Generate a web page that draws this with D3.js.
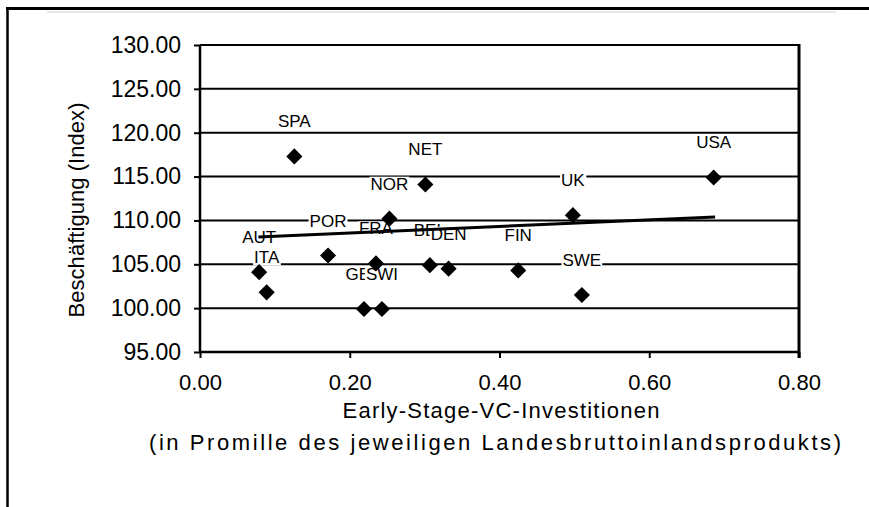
<!DOCTYPE html>
<html>
<head>
<meta charset="utf-8">
<script src="https://cdn.jsdelivr.net/npm/d3@7"></script>
<style>
  html, body { margin: 0; padding: 0; background: #fff; }
  svg { display: block; font-family: "Liberation Sans", Arial, sans-serif; }
</style>
</head>
<body>
<svg id="chart" width="869" height="507"></svg>
<script>
// ---- data ----
const countries  = ["SPA","NET","NOR","POR","AUT","ITA","FRA","GER","SWI","BEL","DEN","FIN","UK","SWE","USA"];
const vcInvest   = [0.126,0.301,0.253,0.171,0.079,0.089,0.235,0.219,0.243,0.307,0.332,0.425,0.498,0.510,0.686];
const employment = [117.3,114.1,110.2,106.0,104.1,101.8,105.1,99.9,99.9,104.9,104.5,104.3,110.6,101.5,114.9];
const trendX = [0.078, 0.688];
const trendY = [108.1, 110.4];
const xTicks = [0.0, 0.2, 0.4, 0.6, 0.8];
const yTicks = [95, 100, 105, 110, 115, 120, 125, 130];
const yTitle = "Beschäftigung (Index)";
const xTitle1 = "Early-Stage-VC-Investitionen";
const xTitle2 = "(in Promille des jeweiligen Landesbruttoinlandsprodukts)";

(function () {
const svg = d3.select("#chart");
const W = 869, H = 507;
svg.append("rect").attr("width", W).attr("height", H).attr("fill", "#fff");

// outer frame
svg.append("line").attr("x1", 6).attr("x2", 869).attr("y1", 8.5).attr("y2", 8.5)
  .attr("stroke", "#000").attr("stroke-width", 3);
svg.append("line").attr("x1", 7.5).attr("x2", 7.5).attr("y1", 7).attr("y2", 507)
  .attr("stroke", "#000").attr("stroke-width", 2.5);
svg.append("line").attr("x1", 47).attr("x2", 836).attr("y1", 12).attr("y2", 12)
  .attr("stroke", "#d0d0d0").attr("stroke-width", 1.2);

const pL = 200, pR = 799, pT = 45, pB = 352;
const x = d3.scaleLinear().domain([0, 0.8]).range([pL, pR]);
const y = d3.scaleLinear().domain([95, 130]).range([pB, pT]);
const fmt = d3.format(".2f");

// gridlines
svg.append("g").selectAll("line").data(yTicks.filter(v => v > 95)).join("line")
  .attr("x1", pL).attr("x2", pR)
  .attr("y1", d => y(d)).attr("y2", d => y(d))
  .attr("stroke", "#000").attr("stroke-width", 2);

// right border
svg.append("line").attr("x1", pR).attr("x2", pR).attr("y1", pT - 1).attr("y2", pB + 6)
  .attr("stroke", "#000").attr("stroke-width", 3);

// y axis
const yAxis = svg.append("g").attr("transform", `translate(${pL},0)`)
  .call(d3.axisLeft(y).tickValues(yTicks).tickFormat(fmt).tickSize(6).tickPadding(13));
yAxis.select(".domain").attr("stroke-width", 2.5).attr("d", `M0,${pT}V${pB}`);
yAxis.selectAll(".tick line").attr("stroke-width", 2);
yAxis.selectAll(".tick text").attr("font-size", 23).attr("fill", "#000")
  .attr("font-family", "'Liberation Sans', Arial, sans-serif");

// x axis
const xAxis = svg.append("g").attr("transform", `translate(0,${pB})`)
  .call(d3.axisBottom(x).tickValues(xTicks).tickFormat(fmt).tickSize(6).tickPadding(16));
xAxis.select(".domain").attr("stroke-width", 2.5).attr("d", `M${pL},0H${pR}`);
xAxis.selectAll(".tick line").attr("stroke-width", 2);
xAxis.selectAll(".tick text").attr("font-size", 22).attr("fill", "#000")
  .attr("font-family", "'Liberation Sans', Arial, sans-serif");

// axis titles
svg.append("text").attr("transform", `translate(84,210) rotate(-90)`)
  .attr("text-anchor", "middle").attr("font-size", 22).attr("textLength", 215)
  .attr("lengthAdjust", "spacing").text(yTitle);
svg.append("text").attr("x", 501).attr("y", 418).attr("text-anchor", "middle")
  .attr("font-size", 22).attr("textLength", 317).attr("lengthAdjust", "spacing").text(xTitle1);
svg.append("text").attr("x", 495).attr("y", 450).attr("text-anchor", "middle")
  .attr("font-size", 22).attr("textLength", 692).attr("lengthAdjust", "spacing").text(xTitle2);

// data labels with white background
const pts = countries.map((c, i) => ({ c, vx: vcInvest[i], vy: employment[i] }));
const lg = svg.append("g");
pts.forEach(p => {
  const g = lg.append("g");
  const r = g.append("rect").attr("fill", "#fff");
  const t = g.append("text").attr("x", x(p.vx)).attr("y", y(p.vy) - 29)
    .attr("text-anchor", "middle").attr("font-size", 17).attr("fill", "#000").text(p.c);
  const bb = t.node().getBBox();
  r.attr("x", bb.x - 1).attr("y", bb.y + 2).attr("width", bb.width + 2).attr("height", bb.height - 4);
});

// trend line
svg.append("line")
  .attr("x1", x(trendX[0])).attr("y1", y(trendY[0]))
  .attr("x2", x(trendX[1])).attr("y2", y(trendY[1]))
  .attr("stroke", "#000").attr("stroke-width", 3);

// diamonds
const sym = d3.symbol().type(d3.symbolSquare).size(130);
svg.append("g").selectAll("path").data(pts).join("path")
  .attr("d", sym)
  .attr("transform", d => `translate(${x(d.vx)},${y(d.vy)}) rotate(45)`)
  .attr("fill", "#000");
})();
</script>
</body>
</html>
